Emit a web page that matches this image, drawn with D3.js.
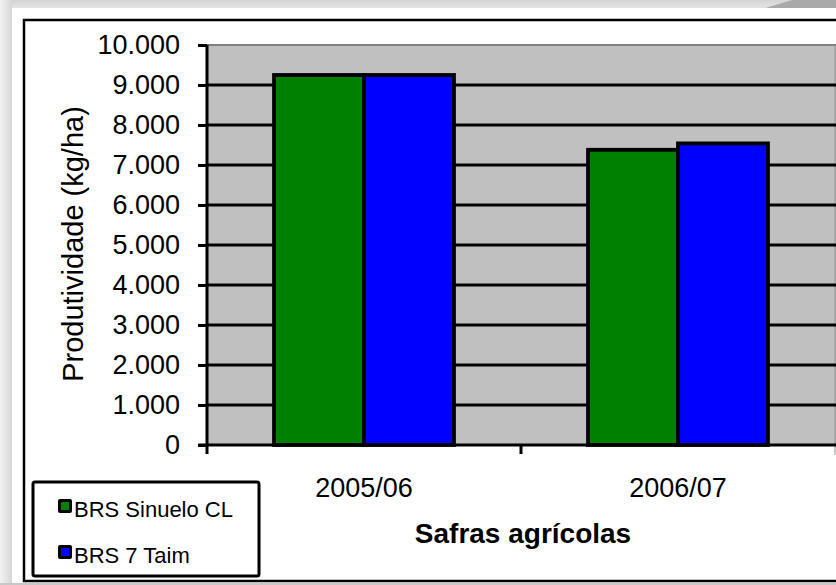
<!DOCTYPE html>
<html><head><meta charset="utf-8">
<script src="https://cdn.jsdelivr.net/npm/d3@7"></script>
<style>html,body{margin:0;padding:0;background:#fff;overflow:hidden}svg{display:block}text{font-family:Arial,"Liberation Sans",sans-serif}</style>
</head><body>
<svg id="c" width="836" height="585"></svg>
<script>
const categories = ["2005/06", "2006/07"];
const seriesNames = ["BRS Sinuelo CL", "BRS 7 Taim"];
const sinueloValues = [9250, 7380];
const taimValues = [9250, 7540];
const yTicks = [0,1000,2000,3000,4000,5000,6000,7000,8000,9000,10000];
const colors = ["#008000", "#0000ff"];
const yTitle = "Produtividade (kg/ha)";
const xTitle = "Safras agrícolas";

(function(){
const svg = d3.select("#c");
const W = 836, H = 585;
const defs = svg.append("defs");
const gTop = defs.append("linearGradient").attr("id","gt").attr("x1",0).attr("y1",0).attr("x2",0).attr("y2",1);
gTop.append("stop").attr("offset","0%").attr("stop-color","#d4d4d4");
gTop.append("stop").attr("offset","100%").attr("stop-color","#e6e6e6");
const gLeft = defs.append("linearGradient").attr("id","gl").attr("x1",0).attr("y1",0).attr("x2",1).attr("y2",0);
gLeft.append("stop").attr("offset","0%").attr("stop-color","#f2f2f2");
gLeft.append("stop").attr("offset","100%").attr("stop-color","#d6d6d6");

// slide background
svg.append("rect").attr("x",0).attr("y",0).attr("width",W).attr("height",H).attr("fill","#e0e0e0");
svg.append("rect").attr("x",0).attr("y",0).attr("width",W).attr("height",9).attr("fill","url(#gt)");
svg.append("rect").attr("x",0).attr("y",0).attr("width",12).attr("height",H).attr("fill","url(#gl)");
svg.append("path").attr("d","M762,9 L792,0 L836,0 L836,9 Z").attr("fill","#a9a9a9");
svg.append("rect").attr("x",12).attr("y",8).attr("width",W-12).attr("height",575).attr("fill","#ffffff");
svg.append("rect").attr("x",0).attr("y",583).attr("width",W).attr("height",2).attr("fill","#c8c8c8");
// chart frame
svg.append("rect").attr("x",24).attr("y",20).attr("width",W).attr("height",561)
  .attr("fill","none").attr("stroke","#000").attr("stroke-width",2.5);

const pL = 207, pR = 835, pT = 45, pB = 445;
const y = d3.scaleLinear().domain([0,10000]).range([pB, pT]);
const x0 = d3.scaleBand().domain(categories).range([pL, pR]).paddingInner(0).paddingOuter(0);
const x1 = d3.scaleBand().domain(seriesNames).range([0, x0.bandwidth()]).paddingInner(0).paddingOuter(0.745);

const loc = d3.formatLocale({decimal:",", thousands:".", grouping:[3], currency:["",""]});
const fmt = loc.format(",");

// plot area
svg.append("rect").attr("x",pL).attr("y",pT).attr("width",pR-pL+2).attr("height",pB-pT).attr("fill","#c0c0c0");
svg.append("line").attr("x1",pL).attr("x2",W).attr("y1",pT).attr("y2",pT).attr("stroke","#808080").attr("stroke-width",2);
svg.append("line").attr("x1",pR).attr("x2",pR).attr("y1",pT).attr("y2",pB+10).attr("stroke","#909090").attr("stroke-width",1);

// gridlines
svg.append("g").selectAll("line").data(yTicks.filter(d => d > 0 && d < 10000)).join("line")
  .attr("x1",pL).attr("x2",W).attr("y1",d=>y(d)).attr("y2",d=>y(d))
  .attr("stroke","#000").attr("stroke-width",3);

// bars
const series = [sinueloValues, taimValues];
const bg = svg.append("g");
categories.forEach((c, i) => {
  seriesNames.forEach((s, j) => {
    const v = series[j][i];
    bg.append("rect")
      .attr("x", x0(c) + x1(s)).attr("y", y(v))
      .attr("width", x1.bandwidth()).attr("height", y(0) - y(v))
      .attr("fill", colors[j]).attr("stroke","#000").attr("stroke-width",3.8);
  });
});

// y axis
const yAxis = d3.axisLeft(y).tickValues(yTicks).tickFormat(fmt).tickSize(9).tickPadding(18);
const ya = svg.append("g").attr("transform",`translate(${pL},0)`).call(yAxis);
ya.select(".domain").attr("stroke","#000").attr("stroke-width",3).attr("d",`M0,${pT}V${pB+9}`);
ya.selectAll(".tick line").attr("stroke","#000").attr("stroke-width",3);
ya.selectAll(".tick text").attr("fill","#000").attr("font-size",27).attr("font-family","Arial, 'Liberation Sans', sans-serif");

// x axis
svg.append("line").attr("x1",pL-9).attr("x2",W).attr("y1",pB).attr("y2",pB).attr("stroke","#000").attr("stroke-width",3);
const bounds = categories.map(c => x0(c)).concat([x0.range()[1]]);
svg.append("g").selectAll("line").data(bounds.slice(1,2)).join("line")
  .attr("x1",d=>d).attr("x2",d=>d).attr("y1",pB).attr("y2",pB+9).attr("stroke","#000").attr("stroke-width",3);
svg.append("g").selectAll("text").data(categories).join("text")
  .attr("x", d => x0(d) + x0.bandwidth()/2).attr("y", 497)
  .attr("text-anchor","middle").attr("font-size",27).attr("fill","#000").text(d => d);

// titles
svg.append("text").attr("transform","translate(83,244) rotate(-90)").attr("text-anchor","middle")
  .attr("font-size",29).attr("fill","#000").text(yTitle);
svg.append("text").attr("x",523).attr("y",543).attr("text-anchor","middle")
  .attr("font-size",28).attr("font-weight","bold").attr("fill","#000").text(xTitle);

// legend
svg.append("rect").attr("x",33).attr("y",482).attr("width",226).attr("height",94)
  .attr("fill","#fff").attr("stroke","#000").attr("stroke-width",3).attr("rx",2);
const lg = svg.append("g").selectAll("g").data(seriesNames).join("g")
  .attr("transform",(d,i)=>`translate(58,${499 + i*46})`);
lg.append("rect").attr("x",0).attr("y",0).attr("width",14).attr("height",14).attr("fill","#000").attr("rx",2);
lg.append("rect").attr("x",3).attr("y",3).attr("width",8).attr("height",8).attr("fill",(d,i)=>colors[i]);
lg.append("text").attr("x",16).attr("y",18).attr("font-size",22).attr("fill","#000").text(d=>d);
})();
</script>
</body></html>
